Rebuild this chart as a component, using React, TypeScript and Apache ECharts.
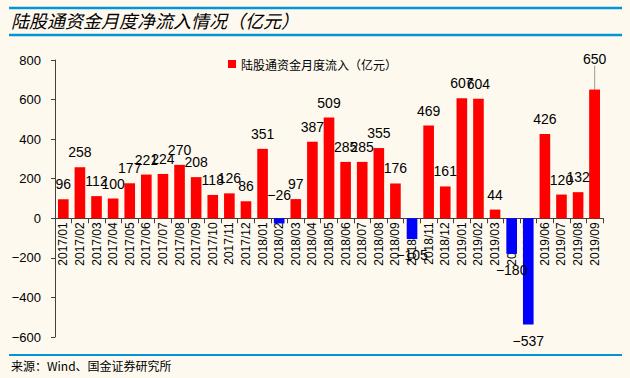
import React, { useEffect, useRef } from "react";
import * as echarts from "echarts";

const categories = [
  "2017/01","2017/02","2017/03","2017/04","2017/05","2017/06","2017/07","2017/08","2017/09","2017/10","2017/11","2017/12",
  "2018/01","2018/02","2018/03","2018/04","2018/05","2018/06","2018/07","2018/08","2018/09","2018/10","2018/11","2018/12",
  "2019/01","2019/02","2019/03","2019/04","2019/05","2019/06","2019/07","2019/08","2019/09",
];
const values = [
  96, 258, 112, 100, 177, 221, 224, 270, 208, 118, 126, 86,
  351, -26, 97, 387, 509, 285, 285, 355, 176, -105, 469, 161,
  607, 604, 44, -180, -537, 426, 120, 132, 650,
];
const yTicks = [-600, -400, -200, 0, 200, 400, 600, 800];
const seriesName = "陆股通资金月度流入（亿元）";
const title = "陆股通资金月度净流入情况（亿元）";
const source = "来源：Wind、国金证券研究所";

const Y_MIN = -600;
const Y_MAX = 800;
const GRID_TOP = 60;
const GRID_BOTTOM = 41;
const H = 378;

export default function App() {
  const ref = useRef<HTMLDivElement>(null);
  useEffect(() => {
    if (!ref.current) return;
    const chart = echarts.init(ref.current, undefined, { renderer: "svg" });
    const font = "Liberation Sans, Arial, Noto Sans CJK SC, sans-serif";
    const gridH = H - GRID_TOP - GRID_BOTTOM;
    const zeroFromBottom = (gridH * (0 - Y_MIN)) / (Y_MAX - Y_MIN);
    const lastIdx = values.length - 1;
    const fmt = (p: any) => (p.value < 0 ? "−" + Math.abs(p.value) : String(p.value));
    const labelBase = { fontSize: 14, color: "#000", fontFamily: font, formatter: fmt };
    const data = values.map((v, i) => {
      const item: any = {
        value: v,
        itemStyle: { color: v < 0 ? "#0000FF" : "#FF0000" },
      };
      if (v < 0 && v !== -26) {
        item.label = { position: "bottom", distance: 9 };
      }
      if (v === -26) {
        item.label = { position: "top", distance: 4, offset: [0, -12] };
      }
      if (i === lastIdx) item.label = { show: false };
      return item;
    });
    const lastData = values.map((v, i) => (i === lastIdx ? v : "-"));
    chart.setOption({
      animation: false,
      backgroundColor: "#FEF9EF",
      textStyle: { fontFamily: font },
      legend: {
        left: 223,
        top: 53,
        itemWidth: 8,
        itemHeight: 8,
        itemGap: 4,
        textStyle: { fontSize: 12, color: "#000", fontFamily: "Noto Sans CJK SC" },
        data: [{ name: seriesName, icon: "rect" }],
      },
      grid: { left: 55, right: 27, top: GRID_TOP, bottom: GRID_BOTTOM, containLabel: false },
      xAxis: {
        type: "category",
        data: categories,
        offset: -zeroFromBottom,
        axisLine: { onZero: false, lineStyle: { color: "#404040", width: 1 } },
        axisTick: { show: true, length: 5, lineStyle: { color: "#404040" } },
        axisLabel: { rotate: 90, interval: 0, fontSize: 12, color: "#000", margin: 4, fontFamily: font },
      },
      yAxis: {
        type: "value",
        min: Y_MIN,
        max: Y_MAX,
        interval: 200,
        splitLine: { show: false },
        axisLine: { show: true, lineStyle: { color: "#404040" } },
        axisTick: { show: true, length: 4, lineStyle: { color: "#404040" } },
        axisLabel: {
          fontSize: 13,
          color: "#000",
          margin: 14,
          fontFamily: font,
          formatter: (v: number) => (yTicks.includes(v) ? (v < 0 ? "−" + Math.abs(v) : String(v)) : ""),
        },
      },
      series: [
        {
          name: seriesName,
          type: "bar",
          data,
          barWidth: "64%",
          itemStyle: { color: "#FF0000" },
          label: { show: true, position: "top", distance: 8, ...labelBase },
        },
        {
          name: "last",
          type: "bar",
          data: lastData,
          barWidth: "64%",
          barGap: "-100%",
          itemStyle: { color: "#FF0000" },
          label: { show: true, position: "top", distance: 8, ...labelBase },
          labelLine: { show: true, lineStyle: { color: "#999", width: 1 } },
          labelLayout: { dy: -16 },
        },
      ],
      graphic: [
        { type: "line", shape: { x1: 9, y1: 8, x2: 622, y2: 8 }, style: { stroke: "#0096D6", lineWidth: 2.5 } },
        { type: "line", shape: { x1: 9, y1: 35, x2: 622, y2: 35 }, style: { stroke: "#0096D6", lineWidth: 2.5 } },
        { type: "line", shape: { x1: 9, y1: 355, x2: 622, y2: 355 }, style: { stroke: "#0096D6", lineWidth: 2 } },
        {
          type: "text",
          left: 11,
          top: 11,
          style: { text: title, fontSize: 18, fontStyle: "italic", fontFamily: "Noto Sans CJK SC", fill: "#000" },
        },
        {
          type: "text",
          left: 11,
          top: 359,
          style: { text: source, fontSize: 12, fontFamily: "Noto Sans CJK SC", fill: "#000" },
        },
      ],
    });
    return () => chart.dispose();
  }, []);
  return (
    <div
      ref={ref}
      style={{ position: "absolute", left: 0, top: 0, width: 630, height: 378 }}
    />
  );
}
